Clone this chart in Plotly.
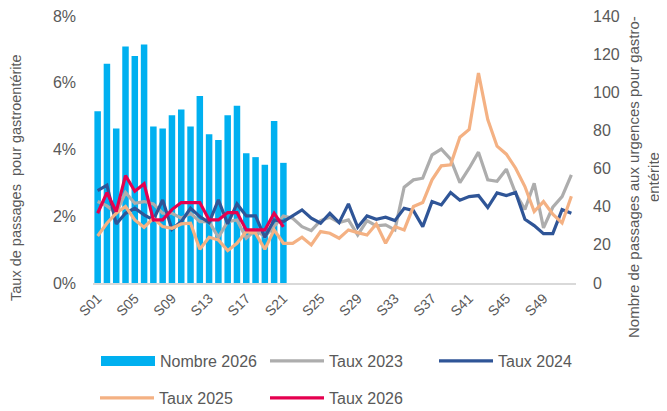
import plotly.graph_objects as go

weeks = [f"S{i:02d}" for i in range(1, 53)]
tick_weeks = weeks[::4]

nombre_2026 = [90, 115, 81, 124, 119, 125, 82, 81, 88, 91, 82, 98, 78, 75, 88, 93, 68, 66, 62, 85, 63]

taux_2023 = [2.44, 2.31, 2.09, 2.71, 2.39, 2.44, 2.37, 2.09, 2.09, 1.94,
             2.09, 1.84, 1.84, 1.37, 1.84, 1.89, 1.34, 1.59, 1.39, 1.69,
             2.01, 1.94, 1.69, 1.57, 1.87, 1.97, 1.81, 1.89, 1.44, 1.87,
             1.71, 1.74, 1.59, 2.87, 3.09, 3.14, 3.84, 4.01, 3.71, 3.01,
             3.44, 3.92, 3.09, 3.05, 3.41, 2.69, 2.20, 2.99, 1.65, 2.27,
             2.59, 3.24]

taux_2024 = [2.77, 2.93, 1.77, 2.09, 2.24, 2.04, 1.89, 2.49, 1.61, 1.84,
             2.24, 1.99, 1.81, 2.49, 1.77, 2.37, 2.01, 2.01, 1.37, 1.89,
             1.84, 2.01, 2.19, 1.94, 1.79, 2.09, 1.81, 2.37, 1.67, 2.01,
             1.91, 1.97, 1.87, 2.24, 2.17, 1.69, 2.44, 2.34, 2.71, 2.48,
             2.59, 2.62, 2.26, 2.70, 2.62, 2.71, 1.91, 1.72, 1.48, 1.48,
             2.20, 2.09]

taux_2025 = [1.41, 1.79, 2.09, 2.29, 1.89, 1.67, 1.94, 1.69, 1.64, 1.77,
             1.79, 1.01, 1.37, 1.29, 0.97, 1.19, 1.54, 1.49, 1.01, 1.59,
             1.19, 1.19, 1.37, 1.14, 1.54, 1.49, 1.34, 1.59, 1.51, 1.44,
             1.77, 1.19, 1.69, 1.59, 2.29, 2.41, 3.09, 3.51, 3.54, 4.37,
             4.60, 6.29, 4.90, 4.10, 3.86, 3.44, 2.89, 2.14, 2.44, 2.06,
             1.80, 2.60]

taux_2026 = [2.09, 2.71, 2.14, 3.22, 2.75, 2.97, 1.89, 1.89, 2.20, 2.41,
             2.41, 2.41, 1.89, 1.89, 2.11, 2.11, 1.59, 1.59, 1.59, 2.09,
             1.68]

TXT = "#595959"
FONT = "Liberation Sans"

# the page body has an 8px margin: lay the figure out 8px up/left
OFF = 8
L, R, T, B = 93 - OFF, 576 - OFF, 16 - OFF, 283 - OFF
PW, PH = R - L, B - T


def px_x(p):
    return (p - OFF - L) / PW


def px_y(p):
    return (B - (p - OFF)) / PH


fig = go.Figure()

fig.add_trace(go.Bar(x=weeks[:len(nombre_2026)], y=nombre_2026, name="Nombre 2026",
                     marker=dict(color="#00B0F0", line=dict(width=0)),
                     yaxis="y", showlegend=False, legendgroup="n"))
# legend swatch for the bars (rectangular, like the original)
fig.add_trace(go.Scatter(x=[None], y=[None], mode="lines", name="Nombre 2026",
                         line=dict(color="#00B0F0", width=13), yaxis="y2",
                         legend="legend", legendgroup="n"))

line_specs = [
    ("Taux 2023", taux_2023, "#ADADAD", "legend2"),
    ("Taux 2024", taux_2024, "#2F5597", "legend3"),
    ("Taux 2025", taux_2025, "#F4B183", "legend4"),
    ("Taux 2026", taux_2026, "#E5004F", "legend5"),
]
for name, vals, col, lg in line_specs:
    fig.add_trace(go.Scatter(x=weeks[:len(vals)], y=vals, name=name, mode="lines",
                             line=dict(color=col, width=3.2), yaxis="y2", legend=lg))


def leg(sx, sy):
    return dict(orientation="h", xref="paper", yref="paper",
                x=px_x(sx - 7), y=px_y(sy), xanchor="left", yanchor="middle",
                font=dict(size=16, color=TXT), bgcolor="rgba(0,0,0,0)",
                itemwidth=54)


fig.update_layout(
    width=667, height=411,
    margin=dict(l=L, r=667 - R, t=T, b=411 - B, autoexpand=False),
    paper_bgcolor="white", plot_bgcolor="white",
    font=dict(family=FONT, color=TXT, size=16),
    bargap=0.3,
    xaxis=dict(type="category", categoryorder="array", categoryarray=weeks,
               range=[-0.5, 51.5], tickmode="array", tickvals=tick_weeks,
               tickangle=-45, tickfont=dict(size=14, color=TXT),
               showgrid=False, showline=True, linecolor="#D9D9D9", linewidth=1.5,
               ticks="", zeroline=False, automargin=False),
    yaxis=dict(side="right", range=[0, 140], dtick=20, showgrid=False,
               zeroline=False, showline=False, ticks="", automargin=False,
               ticklabeloverflow="allow",
               tickfont=dict(size=16, color=TXT), ticklabelstandoff=16),
    yaxis2=dict(side="left", overlaying="y", range=[0, 8], dtick=2,
                ticksuffix="%", showgrid=False, zeroline=False, showline=False,
                ticks="", automargin=False, ticklabeloverflow="allow",
                tickfont=dict(size=16, color=TXT), ticklabelstandoff=16),
    legend=leg(103, 361),
    legend2=leg(272, 361),
    legend3=leg(441, 361),
    legend4=leg(102, 398),
    legend5=leg(272, 398),
    annotations=[
        dict(text="Taux de passages \u00a0pour gastroentérite", textangle=-90,
             xref="paper", yref="paper", x=px_x(16), y=px_y(178),
             xanchor="center", yanchor="middle", showarrow=False,
             font=dict(size=14.5, color=TXT)),
        dict(text="Nombre de passages aux urgences pour gastro-<br>entérite", textangle=-90,
             xref="paper", yref="paper", x=px_x(644), y=px_y(177),
             xanchor="center", yanchor="middle", showarrow=False,
             font=dict(size=15, color=TXT)),
    ],
)

fig.write_html("out.html")
